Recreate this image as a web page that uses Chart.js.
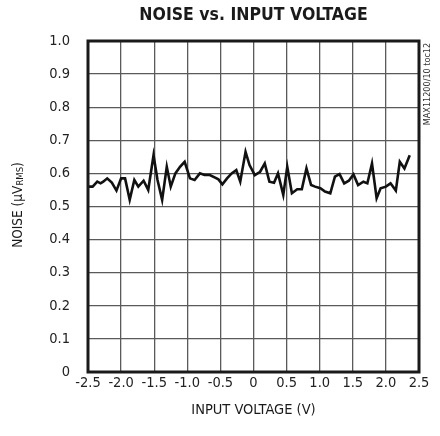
<!DOCTYPE html>
<html>
<head>
<meta charset="utf-8">
<script src="https://cdn.jsdelivr.net/npm/chart.js@4"></script>
<style>
    html, body { margin: 0; padding: 0; background: #fff; }
    #wrap { width: 440px; height: 436px; position: relative; }
</style>
</head>
<body>
<div id="wrap"><canvas id="noiseChart"></canvas></div>
<script>
const inputVoltage = [
    -2.49, -2.43, -2.36, -2.31, -2.27, -2.21, -2.14, -2.07, -2.00, -1.94,
    -1.87, -1.80, -1.74, -1.66, -1.59, -1.51, -1.45, -1.38, -1.31, -1.25,
    -1.18, -1.11, -1.04, -0.96, -0.89, -0.81, -0.74, -0.66, -0.58, -0.53,
    -0.47, -0.40, -0.33, -0.26, -0.20, -0.12, -0.06, 0.02, 0.10, 0.17,
    0.24, 0.31, 0.37, 0.45, 0.51, 0.58, 0.66, 0.73, 0.80, 0.87,
    0.93, 1.01, 1.08, 1.16, 1.23, 1.30, 1.37, 1.44, 1.51, 1.58,
    1.66, 1.72, 1.79, 1.86, 1.92, 2.00, 2.07, 2.15, 2.21, 2.28, 2.36
];
const noiseValues = [
    0.560, 0.560, 0.575, 0.570, 0.575, 0.585, 0.572, 0.548, 0.585, 0.585,
    0.520, 0.580, 0.560, 0.578, 0.550, 0.655, 0.580, 0.520, 0.620, 0.560,
    0.600, 0.620, 0.635, 0.585, 0.580, 0.600, 0.595, 0.595, 0.587, 0.582,
    0.567, 0.585, 0.600, 0.610, 0.575, 0.665, 0.625, 0.595, 0.605, 0.630,
    0.575, 0.572, 0.600, 0.535, 0.620, 0.540, 0.552, 0.552, 0.615, 0.565,
    0.560, 0.555, 0.545, 0.540, 0.590, 0.598, 0.570, 0.578, 0.597, 0.565,
    0.575, 0.570, 0.630, 0.525, 0.555, 0.560, 0.570, 0.548, 0.635, 0.615, 0.655
];

const xTickLabels = ['-2.5', '-2.0', '-1.5', '-1.0', '-0.5', '0', '0.5', '1.0', '1.5', '2.0', '2.5'];
const yTickLabels = ['0', '0.1', '0.2', '0.3', '0.4', '0.5', '0.6', '0.7', '0.8', '0.9', '1.0'];

const NARROW = '"Liberation Sans Narrow", "DejaVu Sans Condensed", "Liberation Sans", sans-serif';

const points = inputVoltage.map((v, i) => ({ x: v, y: noiseValues[i] }));

// titles, frame and the side note are drawn by hand
const decorPlugin = {
    id: 'decor',
    afterDraw(chart) {
        const { ctx, chartArea: a } = chart;
        ctx.save();

        // thick frame
        ctx.strokeStyle = '#1a1a1a';
        ctx.lineWidth = 3;
        ctx.strokeRect(a.left, a.top, a.right - a.left, a.bottom - a.top);

        // main title
        ctx.fillStyle = '#1a1a1a';
        ctx.textAlign = 'center';
        ctx.textBaseline = 'middle';
        ctx.font = 'bold 17.5px ' + NARROW;
        ctx.fillText('NOISE vs. INPUT VOLTAGE', (a.left + a.right) / 2, 15);

        // x axis title
        ctx.font = '14.5px ' + NARROW;
        ctx.fillText('INPUT VOLTAGE (V)', (a.left + a.right) / 2, 410);

        // y axis title with RMS subscript
        ctx.save();
        ctx.translate(18, 205);
        ctx.rotate(-Math.PI / 2);
        ctx.textAlign = 'left';
        ctx.textBaseline = 'middle';
        const mainFont = '13.5px ' + NARROW;
        const subFont = '9.5px ' + NARROW;
        ctx.font = mainFont;
        const p1 = 'NOISE (\u00B5V';
        const w1 = ctx.measureText(p1).width;
        const w3 = ctx.measureText(')').width;
        ctx.font = subFont;
        const w2 = ctx.measureText('RMS').width;
        let x0 = -(w1 + w2 + w3) / 2;
        ctx.font = mainFont;
        ctx.fillText(p1, x0, 0);
        ctx.font = subFont;
        ctx.fillText('RMS', x0 + w1, 3);
        ctx.font = mainFont;
        ctx.fillText(')', x0 + w1 + w2, 0);
        ctx.restore();

        // side note
        ctx.save();
        ctx.translate(428, 84);
        ctx.rotate(-Math.PI / 2);
        ctx.textAlign = 'center';
        ctx.textBaseline = 'middle';
        ctx.font = '9px ' + NARROW;
        ctx.fillStyle = '#333';
        ctx.fillText('MAX11200/10 toc12', 0, 0);
        ctx.restore();

        ctx.restore();
    }
};

const ctx = document.getElementById('noiseChart').getContext('2d');
new Chart(ctx, {
    type: 'line',
    data: {
        datasets: [{
            data: points,
            borderColor: '#111',
            borderWidth: 2.6,
            pointRadius: 0,
            tension: 0,
            fill: false,
        }],
    },
    options: {
        responsive: true,
        maintainAspectRatio: false,
        animation: false,
        layout: { padding: { top: 41, right: 21, left: 0, bottom: 0 } },
        plugins: {
            legend: { display: false },
            tooltip: { enabled: false },
        },
        scales: {
            x: {
                type: 'linear',
                min: -2.5,
                max: 2.5,
                afterFit: (scale) => { scale.height = 64; },
                afterBuildTicks: (scale) => {
                    scale.ticks = xTickLabels.map(t => ({ value: parseFloat(t) }));
                },
                ticks: {
                    color: '#222',
                    font: { family: NARROW, size: 14.5 },
                    padding: 3,
                    maxRotation: 0,
                    autoSkip: false,
                    callback: (v) => xTickLabels[Math.round((v + 2.5) * 2)],
                },
                grid: { color: '#5a5a5a', lineWidth: 1.3, drawTicks: false },
                border: { display: false },
            },
            y: {
                min: 0,
                max: 1.0,
                afterFit: (scale) => { scale.width = 88; },
                afterBuildTicks: (scale) => {
                    scale.ticks = yTickLabels.map(t => ({ value: parseFloat(t) }));
                },
                ticks: {
                    color: '#222',
                    font: { family: NARROW, size: 14.5 },
                    padding: 18,
                    autoSkip: false,
                    callback: (v) => yTickLabels[Math.round(v * 10)],
                },
                grid: { color: '#5a5a5a', lineWidth: 1.3, drawTicks: false },
                border: { display: false },
            },
        },
    },
    plugins: [decorPlugin],
});
</script>
</body>
</html>
